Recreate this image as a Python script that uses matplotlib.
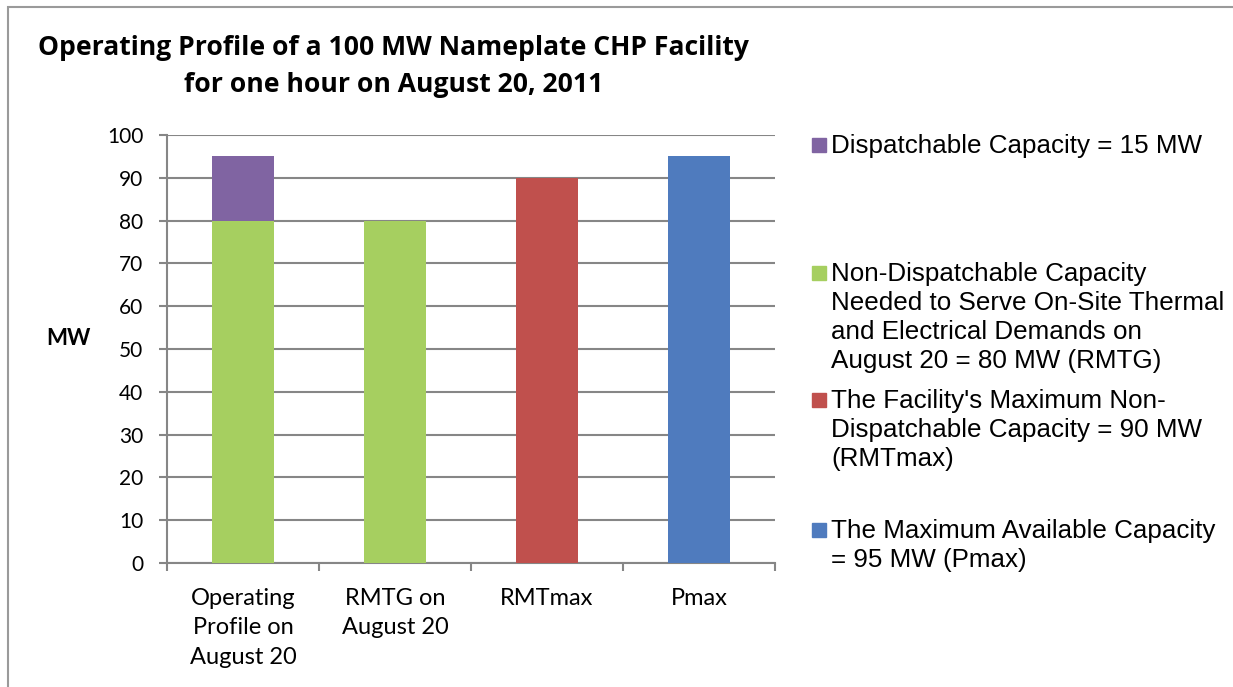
import matplotlib.pyplot as plt
from matplotlib.patches import Rectangle
import numpy as np

# data
categories = ["Operating\nProfile on\nAugust 20", "RMTG on\nAugust 20", "RMTmax", "Pmax"]
non_dispatchable = [80, 80, 0, 0]
dispatchable = [15, 0, 0, 0]
rmt_max = [0, 0, 90, 0]
p_max = [0, 0, 0, 95]
y_ticks = list(range(0, 101, 10))

legend_labels = [
    "Dispatchable Capacity = 15 MW",
    "Non-Dispatchable Capacity\nNeeded to Serve On-Site Thermal\nand Electrical Demands on\nAugust 20 = 80 MW (RMTG)",
    "The Facility's Maximum Non-\nDispatchable Capacity = 90 MW\n(RMTmax)",
    "The Maximum Available Capacity\n= 95 MW (Pmax)",
]
c_purple = "#8064A2"
c_green = "#A6CF60"
c_red = "#C0504D"
c_blue = "#4F7BBE"
grid_c = "#868686"

W, H = 1233, 687
fig = plt.figure(figsize=(W / 100, H / 100), dpi=100)
ax = fig.add_axes([167 / W, 1 - 563 / H, (775 - 167) / W, (563 - 135) / H])

x = np.arange(len(categories))
bw = 0.41
ax.bar(x, non_dispatchable, bw, color=c_green, zorder=3)
ax.bar(x, dispatchable, bw, bottom=non_dispatchable, color=c_purple, zorder=3)
ax.bar(x, rmt_max, bw, color=c_red, zorder=3)
ax.bar(x, p_max, bw, color=c_blue, zorder=3)

ax.set_xlim(-0.5, len(categories) - 0.5)
ax.set_ylim(0, 100)
ax.set_yticks(y_ticks)
ax.set_yticklabels([str(v) for v in y_ticks], fontsize=15, family="Lato")
ax.set_xticks(x)
ax.set_xticklabels(categories, fontsize=17, family="Lato", linespacing=1.5)
ax.set_xticks(np.arange(-0.5, len(categories)), minor=True)
ax.tick_params(axis="x", which="major", length=0, pad=18)
ax.tick_params(axis="x", which="minor", length=6, width=1.5, color=grid_c)
ax.tick_params(axis="y", length=6, width=1.5, color=grid_c, pad=11)

ax.yaxis.grid(True, color=grid_c, linewidth=1.5, zorder=0)
for s in ["top", "right"]:
    ax.spines[s].set_visible(False)
for s in ["left", "bottom"]:
    ax.spines[s].set_color(grid_c)
    ax.spines[s].set_linewidth(1.5)

ax.set_ylabel("MW", fontsize=16, fontweight="bold", family="Lato", rotation=0,
              labelpad=0)
ax.yaxis.set_label_coords((68 - 167) / (775 - 167), 0.5)

fig.text(394 / W, 1 - 48 / H, "Operating Profile of a 100 MW Nameplate CHP Facility",
         ha="center", va="center", fontsize=19.1, fontweight="bold", family="Open Sans")
fig.text(394 / W, 1 - 85 / H, "for one hour on August 20, 2011",
         ha="center", va="center", fontsize=19.1, fontweight="bold", family="Open Sans")

# legend drawn by hand so the swatch sits beside the first line
legend_colors = [c_purple, c_green, c_red, c_blue]
legend_y = [145, 273, 400, 530]
for lab, col, yy in zip(legend_labels, legend_colors, legend_y):
    fig.patches.append(Rectangle((812 / W, 1 - (yy + 7) / H), 14 / W, 14 / H,
                                 transform=fig.transFigure, color=col))
    fig.text(831 / W, 1 - (yy - 11) / H, lab, ha="left", va="top", fontsize=18.7,
             family="Liberation Sans", linespacing=1.27)

# outer frame line at top and left
fig.patches.append(Rectangle((8 / W, -0.1), 1.2, 1.1 - 7 / H, transform=fig.transFigure,
                             fill=False, edgecolor="#9a9a9a", linewidth=1.5))

fig.savefig("out.png", dpi=100)
